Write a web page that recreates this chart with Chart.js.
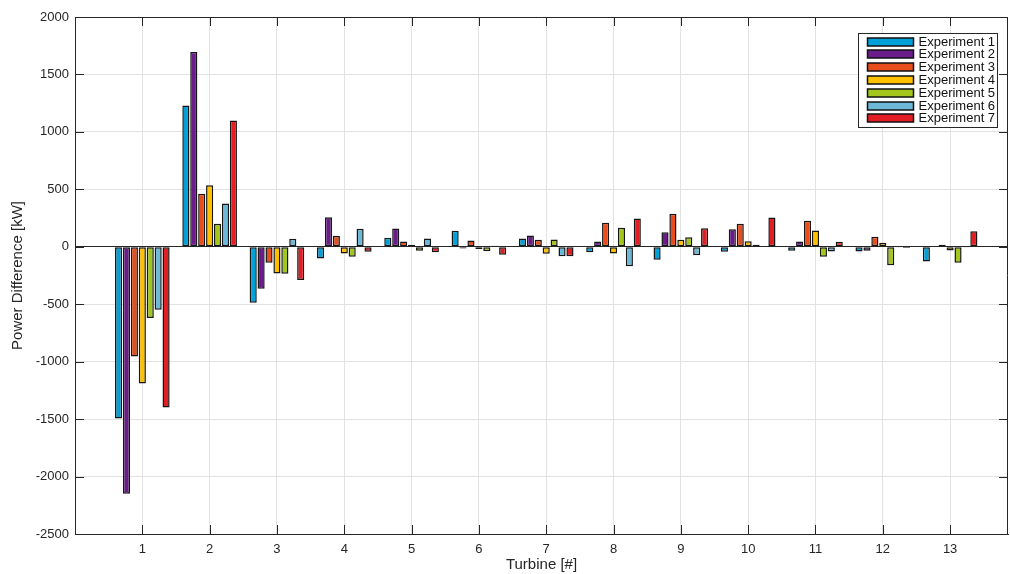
<!DOCTYPE html>
<html>
<head>
<meta charset="utf-8">
<script src="https://cdn.jsdelivr.net/npm/chart.js@4/dist/chart.umd.min.js"></script>
<style>
  body { margin: 0; background: #fff; }
  #wrap { position: relative; width: 1010px; height: 574px; }
</style>
</head>
<body>
<div id="wrap"><canvas id="power-chart"></canvas></div>
<script>
// turbine numbers and one row of values per experiment (kW)
var turbines = [1, 2, 3, 4, 5, 6, 7, 8, 9, 10, 11, 12, 13];
var experimentNames = ['Experiment 1', 'Experiment 2', 'Experiment 3', 'Experiment 4', 'Experiment 5', 'Experiment 6', 'Experiment 7'];

var exp1 = [-1495, 1230, -487, -102, 78, 139, 72, -47, -113, -43, -35, -41, -128];
var exp2 = [-2150, 1695, -365, 258, 160, -15, 98, 46, 127, 153, 46, -35, -5];
var exp3 = [-955, 461, -139, 96, 45, 55, 61, 209, 287, 200, 226, 87, 17];
var exp4 = [-1190, 536, -232, -58, 17, -20, -61, -58, 61, 49, 142, 35, -32];
var exp5 = [-620, 200, -235, -87, -34, -38, 63, 165, 84, 17, -87, -160, -139];
var exp6 = [-548, 377, 70, 157, 71, 8, -82, -169, -73, -5, -41, -3, -3];
var exp7 = [-1400, 1100, -290, -43, -47, -70, -82, 246, 162, 255, 43, -10, 136];

var yTicks = [-2500, -2000, -1500, -1000, -500, 0, 500, 1000, 1500, 2000];

var series = [exp1, exp2, exp3, exp4, exp5, exp6, exp7];
var colors = ['#00a0d8', '#6a1d8a', '#e84e1c', '#ffc000', '#a2c61c', '#6cb8d6', '#e21e24'];

var ink = '#262626';
var fontFamily = "'Liberation Sans', Arial, Helvetica, sans-serif";

// matlab style box: top/right lines, inward tick marks and boxed legend
var matlabBox = {
  id: 'matlabBox',
  afterDraw: function(chart) {
    var ctx = chart.ctx;
    var a = chart.chartArea;
    var xs = chart.scales.x, ys = chart.scales.y;
    var tl = 9;
    ctx.save();
    ctx.strokeStyle = ink;
    ctx.lineWidth = 1;
    ctx.beginPath();
    ctx.moveTo(a.left, a.top + 0.5); ctx.lineTo(a.right, a.top + 0.5);
    ctx.moveTo(a.right - 0.5, a.top); ctx.lineTo(a.right - 0.5, a.bottom);
    turbines.forEach(function(t) {
      var px = Math.round(xs.getPixelForValue(t)) + 0.5;
      ctx.moveTo(px, a.bottom); ctx.lineTo(px, a.bottom - tl);
      ctx.moveTo(px, a.top); ctx.lineTo(px, a.top + tl);
    });
    yTicks.forEach(function(v) {
      var py = Math.round(ys.getPixelForValue(v)) + 0.5;
      ctx.moveTo(a.left, py); ctx.lineTo(a.left + tl, py);
      ctx.moveTo(a.right, py); ctx.lineTo(a.right - tl, py);
    });
    ctx.stroke();

    // legend
    var bw = 139, rowH = 12.8;
    var bx = Math.round(a.right - 11 - bw) + 0.5;
    var by = Math.round(a.top + 16) + 0.5;
    var bh = Math.round(chart.data.datasets.length * rowH + 4);
    ctx.fillStyle = '#fff';
    ctx.fillRect(bx, by, bw, bh);
    ctx.strokeStyle = ink;
    ctx.strokeRect(bx, by, bw, bh);
    ctx.font = '13px ' + fontFamily;
    ctx.textBaseline = 'middle';
    chart.data.datasets.forEach(function(ds, i) {
      var cy = by + 8 + i * rowH;
      ctx.fillStyle = ds.backgroundColor;
      ctx.fillRect(bx + 9, Math.round(cy - 4), 46, 8);
      ctx.lineWidth = 1.5;
      ctx.strokeStyle = '#111';
      ctx.strokeRect(bx + 9, Math.round(cy - 4), 46, 8);
      ctx.fillStyle = '#111';
      ctx.fillText(ds.label, bx + 60, cy + 0.5);
    });
    ctx.restore();
  }
};

var ctx = document.getElementById('power-chart').getContext('2d');

var chart = new Chart(ctx, {
  type: 'bar',
  data: {
    datasets: experimentNames.map(function(name, i) {
      return {
        label: name,
        data: turbines.map(function(t, j) { return { x: t, y: series[i][j] }; }),
        backgroundColor: colors[i],
        borderColor: '#161616',
        borderWidth: 1.5,
        borderSkipped: false,
        categoryPercentage: 0.8235,
        barPercentage: 0.9
      };
    })
  },
  options: {
    responsive: true,
    maintainAspectRatio: false,
    animation: false,
    layout: { padding: { left: 0, right: 2, top: 17, bottom: 0 } },
    plugins: {
      legend: { display: false },
      tooltip: { enabled: false }
    },
    scales: {
      x: {
        type: 'linear',
        min: 0,
        max: 13.86,
        offset: false,
        afterFit: function(scale) { scale.height = 40; },
        ticks: {
          stepSize: 1,
          includeBounds: false,
          padding: 8,
          maxRotation: 0,
          autoSkip: false,
          color: ink,
          font: { family: fontFamily, size: 13 },
          callback: function(v) { return (v >= 1 && v <= 13) ? String(v) : ''; }
        },
        grid: {
          offset: false,
          drawTicks: false,
          color: function(c) { return c.tick && c.tick.value === 0 ? 'rgba(0,0,0,0)' : '#e2e2e2'; }
        },
        border: { display: true, color: ink, width: 1 },
        title: {
          display: true,
          text: 'Turbine [#]',
          color: ink,
          font: { family: fontFamily, size: 15 },
          padding: { top: 0, bottom: 0 }
        }
      },
      y: {
        min: yTicks[0],
        max: yTicks[yTicks.length - 1],
        afterFit: function(scale) { scale.width = 75; },
        ticks: {
          stepSize: 500,
          padding: 6,
          color: ink,
          font: { family: fontFamily, size: 13 },
          callback: function(v) { return String(v); }
        },
        grid: {
          drawTicks: false,
          color: function(c) { return c.tick && c.tick.value === 0 ? ink : '#e2e2e2'; }
        },
        border: { display: true, color: ink, width: 1 },
        title: {
          display: true,
          text: 'Power Difference [kW]',
          color: ink,
          font: { family: fontFamily, size: 15 },
          padding: { top: 9, bottom: 0 }
        }
      }
    }
  },
  plugins: [matlabBox]
});
</script>
</body>
</html>
